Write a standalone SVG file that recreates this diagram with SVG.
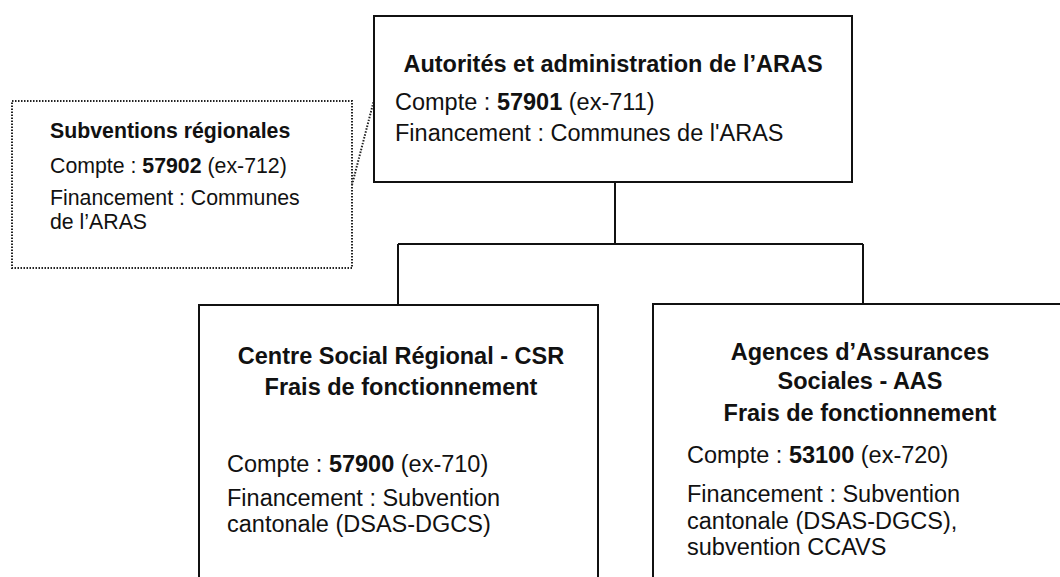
<svg xmlns="http://www.w3.org/2000/svg" width="1060" height="577" viewBox="0 0 1060 577">
<style>
  text { font-family: "Liberation Sans", Arial, sans-serif; fill: #111; }
  .t { font-size: 23.5px; }
  .s { font-size: 21.3px; }
  .b { font-weight: bold; }
  .mid { text-anchor: middle; }
  .box { fill: #fff; stroke: #111; stroke-width: 2; }
  .dot { fill: none; stroke: #222; stroke-width: 2; stroke-dasharray: 1.5 1.5; }
  .con { fill: none; stroke: #111; stroke-width: 2; }
</style>
<rect width="1060" height="577" fill="#fff"/>
<g id="connectors">
  <path class="con" d="M615 182 V244 M398 244 H863 M398 244 V305 M863 244 V304"/>
  <path class="dot" d="M352 185 L374 100"/>
</g>
<g id="node-subventions">
  <rect class="dot" x="12" y="101" width="340" height="167"/>
  <text class="s b" x="50" y="138">Subventions régionales</text>
  <text class="s" x="50" y="173">Compte : <tspan class="b">57902</tspan> (ex-712)</text>
  <text class="s" x="50" y="205">Financement : Communes</text>
  <text class="s" x="50" y="229">de l’ARAS</text>
</g>
<g id="node-aras">
  <rect class="box" x="374" y="16" width="478" height="166"/>
  <text class="t b mid" x="613" y="72">Autorités et administration de l’ARAS</text>
  <text class="t" x="395" y="110">Compte : <tspan class="b">57901</tspan> (ex-711)</text>
  <text class="t" x="395" y="141">Financement : Communes de l'ARAS</text>
</g>
<g id="node-csr">
  <rect class="box" x="199" y="305" width="399" height="300"/>
  <text class="t b mid" x="401" y="364">Centre Social Régional - CSR</text>
  <text class="t b mid" x="401" y="395">Frais de fonctionnement</text>
  <text class="t" x="227" y="472">Compte : <tspan class="b">57900</tspan> (ex-710)</text>
  <text class="t" x="227" y="506">Financement : Subvention</text>
  <text class="t" x="227" y="532">cantonale (DSAS-DGCS)</text>
</g>
<g id="node-aas">
  <rect class="box" x="653" y="304" width="420" height="300"/>
  <text class="t b mid" x="860" y="360">Agences d’Assurances</text>
  <text class="t b mid" x="860" y="389">Sociales - AAS</text>
  <text class="t b mid" x="860" y="421">Frais de fonctionnement</text>
  <text class="t" x="687" y="463">Compte : <tspan class="b">53100</tspan> (ex-720)</text>
  <text class="t" x="687" y="502">Financement : Subvention</text>
  <text class="t" x="687" y="529">cantonale (DSAS-DGCS),</text>
  <text class="t" x="687" y="555">subvention CCAVS</text>
</g>
</svg>
